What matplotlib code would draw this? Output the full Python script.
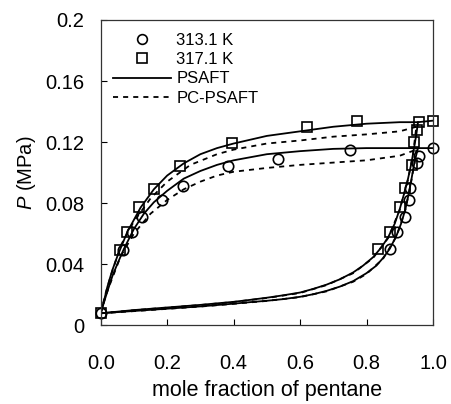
import matplotlib
matplotlib.use("Agg")
import matplotlib.pyplot as plt
from matplotlib.lines import Line2D

plt.rcParams['font.family'] = ['Liberation Sans', 'DejaVu Sans']
plt.rcParams['mathtext.fontset'] = 'custom'
plt.rcParams['mathtext.it'] = 'Liberation Sans:italic'
plt.rcParams['mathtext.rm'] = 'Liberation Sans'

# ---- experimental data ----
x313_dew = [0.0, 0.068, 0.093, 0.123, 0.184, 0.248, 0.384, 0.535, 0.751, 1.0]
p313_dew = [0.0077, 0.049, 0.061, 0.071, 0.082, 0.091, 0.104, 0.109, 0.115, 0.116]
x313_bub = [0.871, 0.891, 0.917, 0.927, 0.932, 0.952, 0.957]
p313_bub = [0.050, 0.061, 0.071, 0.082, 0.090, 0.106, 0.111]

x317_dew = [0.0, 0.058, 0.078, 0.116, 0.161, 0.239, 0.394, 0.62, 0.771, 1.0]
p317_dew = [0.0077, 0.049, 0.061, 0.0776, 0.089, 0.104, 0.1196, 0.1296, 0.134, 0.134]
x317_bub = [0.836, 0.871, 0.900, 0.917, 0.936, 0.942, 0.952, 0.957]
p317_bub = [0.050, 0.061, 0.0776, 0.0896, 0.105, 0.120, 0.128, 0.133]

# ---- PSAFT (solid) ----
xs313_dew = [0.0, 0.01, 0.02, 0.035, 0.05, 0.07, 0.10, 0.13, 0.16, 0.20, 0.25, 0.30, 0.35, 0.40, 0.50, 0.60, 0.70, 0.80, 0.90, 0.955, 1.0]
ps313_dew = [0.0077, 0.015, 0.022, 0.032, 0.040, 0.050, 0.063, 0.073, 0.0805, 0.088, 0.096, 0.101, 0.105, 0.108, 0.112, 0.114, 0.1155, 0.116, 0.116, 0.116, 0.116]
xs313_bub = [0.0, 0.10, 0.20, 0.30, 0.40, 0.45, 0.50, 0.55, 0.60, 0.64, 0.68, 0.72, 0.76, 0.80, 0.83, 0.85, 0.87, 0.89, 0.905, 0.917, 0.926, 0.934, 0.942, 0.948, 0.955]
ps313_bub = [0.0077, 0.0092, 0.0107, 0.0122, 0.0140, 0.0150, 0.0159, 0.0170, 0.0185, 0.0202, 0.0224, 0.0252, 0.0288, 0.0340, 0.0390, 0.0440, 0.0500, 0.0585, 0.0670, 0.0760, 0.0850, 0.0940, 0.1040, 0.1100, 0.1160]

xs317_dew = [0.0, 0.01, 0.02, 0.035, 0.05, 0.08, 0.12, 0.16, 0.20, 0.25, 0.30, 0.35, 0.40, 0.50, 0.60, 0.70, 0.80, 0.90, 0.955, 1.0]
ps317_dew = [0.0077, 0.016, 0.025, 0.036, 0.045, 0.061, 0.077, 0.089, 0.098, 0.106, 0.112, 0.116, 0.119, 0.124, 0.127, 0.130, 0.132, 0.133, 0.133, 0.134]
xs317_bub = [0.0, 0.10, 0.20, 0.30, 0.40, 0.45, 0.50, 0.55, 0.60, 0.64, 0.68, 0.72, 0.76, 0.79, 0.82, 0.845, 0.865, 0.885, 0.90, 0.913, 0.925, 0.935, 0.943, 0.950, 0.955]
ps317_bub = [0.0077, 0.0098, 0.0115, 0.0132, 0.0152, 0.0165, 0.0179, 0.0195, 0.0213, 0.0237, 0.0265, 0.0300, 0.0345, 0.0390, 0.0445, 0.0510, 0.0575, 0.0665, 0.0760, 0.0860, 0.0960, 0.1060, 0.1160, 0.1250, 0.1330]

# ---- PC-PSAFT (dashed) ----
xd313_dew = [0.0, 0.015, 0.03, 0.06, 0.10, 0.15, 0.20, 0.25, 0.30, 0.35, 0.40, 0.50, 0.60, 0.70, 0.80, 0.90, 0.95]
pd313_dew = [0.0077, 0.019, 0.028, 0.045, 0.060, 0.073, 0.082, 0.089, 0.094, 0.098, 0.1005, 0.103, 0.105, 0.1065, 0.108, 0.111, 0.115]
xd317_dew = [0.0, 0.015, 0.03, 0.06, 0.10, 0.15, 0.20, 0.27, 0.35, 0.40, 0.50, 0.60, 0.70, 0.80, 0.90, 0.95]
pd317_dew = [0.0077, 0.021, 0.032, 0.052, 0.068, 0.083, 0.094, 0.105, 0.112, 0.115, 0.119, 0.121, 0.1235, 0.125, 0.127, 0.130]
xd313_bub = [0.0, 0.10, 0.20, 0.30, 0.40, 0.50, 0.60, 0.68, 0.76, 0.80, 0.85, 0.89, 0.917, 0.934, 0.945, 0.95]
pd313_bub = [0.0077, 0.0091, 0.0106, 0.0121, 0.0139, 0.0158, 0.0183, 0.0221, 0.0284, 0.0335, 0.0435, 0.0580, 0.0755, 0.0935, 0.1070, 0.1150]
xd317_bub = [0.0, 0.10, 0.20, 0.30, 0.40, 0.50, 0.60, 0.68, 0.76, 0.82, 0.865, 0.90, 0.925, 0.940, 0.950]
pd317_bub = [0.0077, 0.0097, 0.0114, 0.0131, 0.0151, 0.0177, 0.0210, 0.0262, 0.0340, 0.0440, 0.0570, 0.0755, 0.0955, 0.1120, 0.1300]

xticks = [0.0, 0.2, 0.4, 0.6, 0.8, 1.0]
xticklabels = ['0.0', '0.2', '0.4', '0.6', '0.8', '1.0']
yticks = [0, 0.04, 0.08, 0.12, 0.16, 0.2]
yticklabels = ['0', '0.04', '0.08', '0.12', '0.16', '0.2']

fig = plt.figure(figsize=(4.51, 4.04), dpi=100)
ax = fig.add_axes([0.2233, 0.1955, 0.7367, 0.755])

lw = 1.3
dash = (0, (2.8, 2.8))
for xx, pp in [(xs313_dew, ps313_dew), (xs313_bub, ps313_bub), (xs317_dew, ps317_dew), (xs317_bub, ps317_bub)]:
    ax.plot(xx, pp, color='black', lw=lw, ls='-', solid_joinstyle='round')
for xx, pp in [(xd313_dew, pd313_dew), (xd317_dew, pd317_dew), (xd313_bub, pd313_bub), (xd317_bub, pd317_bub)]:
    ax.plot(xx, pp, color='black', lw=lw, ls=dash)

mk = dict(ls='none', mfc='none', mec='black', mew=1.2, ms=7.5, clip_on=False)
ax.plot(x313_dew, p313_dew, marker='o', **mk)
ax.plot(x313_bub, p313_bub, marker='o', **mk)
ax.plot(x317_dew, p317_dew, marker='s', **mk)
ax.plot(x317_bub, p317_bub, marker='s', **mk)

ax.set_xlim(0, 1.0)
ax.set_ylim(0, 0.2)
ax.set_xticks(xticks)
ax.set_xticklabels(xticklabels)
ax.set_yticks(yticks)
ax.set_yticklabels(yticklabels)
ax.tick_params(axis='both', direction='in', length=4, width=0.8, labelsize=14.5, colors='black')
ax.tick_params(axis='x', pad=21)
ax.tick_params(axis='y', pad=12)
for s in ['top', 'right', 'left', 'bottom']:
    ax.spines[s].set_linewidth(0.9)
    ax.spines[s].set_color('#333333')

ax.set_xlabel('mole fraction of pentane', fontsize=15.5)
ax.set_ylabel(r'$P$ (MPa)', fontsize=14.5)
ax.xaxis.set_label_coords(0.5, -0.18)
ax.yaxis.set_label_coords(-0.19, 0.5)

handles = [
    Line2D([], [], ls='none', marker='o', mfc='none', mec='black', mew=1.2, ms=7),
    Line2D([], [], ls='none', marker='s', mfc='none', mec='black', mew=1.2, ms=7),
    Line2D([], [], color='black', lw=lw, ls='-'),
    Line2D([], [], color='black', lw=lw, ls=dash),
]
labels = ['313.1 K', '317.1 K', 'PSAFT', 'PC-PSAFT']
ax.legend(handles, labels, loc='upper left', bbox_to_anchor=(0.037, 0.957),
          frameon=False, fontsize=12, handlelength=3.5, handletextpad=0.3,
          labelspacing=0.25, borderpad=0, borderaxespad=0, numpoints=1)

fig.savefig('out.png', dpi=100)
